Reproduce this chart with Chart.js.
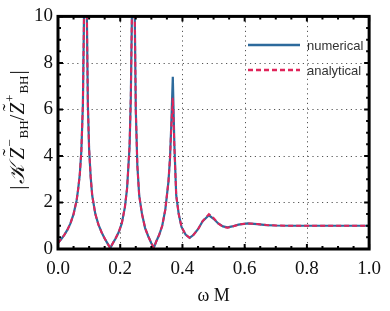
<!DOCTYPE html>
<html lang="en">
<head>
  <meta charset="UTF-8">
  <title>Ratio plot</title>
  <script src="https://cdn.jsdelivr.net/npm/chart.js"></script>
  <style>
    body { margin: 0; padding: 0; background: #ffffff; }
    #wrap { width: 390px; height: 311px; }
  </style>
</head>
<body>
<div id="wrap"><canvas id="ratioChart" width="390" height="311"></canvas></div>

<script>
  // === Data ===
  const omegaM = [0, 0.01, 0.02, 0.03, 0.04, 0.05, 0.06, 0.065, 0.07, 0.075, 0.08,
    0.084, 0.088, 0.092, 0.096, 0.1, 0.105, 0.11, 0.12, 0.13, 0.14, 0.15, 0.16,
    0.168, 0.175, 0.185, 0.195, 0.205, 0.215, 0.222, 0.23, 0.234, 0.238, 0.242,
    0.246, 0.25, 0.255, 0.261, 0.27, 0.28, 0.29, 0.3, 0.308, 0.315, 0.325, 0.335,
    0.345, 0.355, 0.36, 0.364, 0.369, 0.374, 0.38, 0.388, 0.397, 0.41, 0.423,
    0.435, 0.45, 0.465, 0.485, 0.5, 0.515, 0.53, 0.545, 0.56, 0.58, 0.61, 0.64,
    0.67, 0.7, 0.75, 0.8, 0.9, 1.0];

  const numerical = [0.25, 0.42, 0.6, 0.82, 1.1, 1.5, 2.1, 2.6, 3.2, 4.2, 6.2,
    10.5, 30, 11, 6.2, 4.3, 3.1, 2.3, 1.5, 1.05, 0.72, 0.45, 0.22,
    0.04, 0.22, 0.45, 0.72, 1.1, 1.8, 2.6, 4.4, 6.5, 10.5, 30,
    11, 6, 3.6, 2.3, 1.5, 0.9, 0.55, 0.25, 0.05, 0.3, 0.6, 1.0,
    1.7, 2.9, 3.9, 5.3, 7.4, 4.5, 2.3, 1.5, 0.95, 0.62, 0.48,
    0.6, 0.85, 1.2, 1.45, 1.3, 1.1, 0.97, 0.93, 0.97, 1.05, 1.1, 1.07,
    1.03, 1.01, 1.0, 1.0, 1.0, 1.0];

  const analytical = [0.25, 0.42, 0.6, 0.82, 1.1, 1.5, 2.1, 2.6, 3.2, 4.2, 6.2,
    10.5, 30, 11, 6.2, 4.3, 3.1, 2.3, 1.5, 1.05, 0.72, 0.45, 0.22,
    0.04, 0.22, 0.45, 0.72, 1.1, 1.8, 2.6, 4.4, 6.5, 10.5, 30,
    11, 6, 3.6, 2.3, 1.5, 0.9, 0.55, 0.25, 0.05, 0.3, 0.6, 1.0,
    1.7, 2.9, 3.9, 5.2, 6.5, 4.4, 2.3, 1.5, 0.95, 0.62, 0.48,
    0.6, 0.85, 1.2, 1.5, 1.33, 1.1, 0.96, 0.91, 0.96, 1.05, 1.1, 1.07,
    1.03, 1.01, 1.0, 1.0, 1.0, 1.0];

  const xTicks = [0, 0.2, 0.4, 0.6, 0.8, 1.0];
  const yTicks = [0, 2, 4, 6, 8, 10];
  const seriesNames = ['numerical', 'analytical'];

  const blue = '#2d6a9c';
  const red = '#e0245a';
  const serif = "'Liberation Serif', 'DejaVu Serif', serif";

  // frame, inward ticks and dotted grid like the original figure
  const frameTicks = {
    id: 'frameTicks',
    beforeDatasetsDraw(chart) {
      const { ctx, chartArea: a, scales } = chart;
      ctx.save();
      ctx.strokeStyle = '#555';
      ctx.lineWidth = 1;
      ctx.setLineDash([1.2, 3.6]);
      xTicks.slice(1, -1).forEach(v => {
        const px = Math.round(scales.x.getPixelForValue(v)) + 0.5;
        ctx.beginPath(); ctx.moveTo(px, a.top); ctx.lineTo(px, a.bottom); ctx.stroke();
      });
      yTicks.slice(1, -1).forEach(v => {
        const py = Math.round(scales.y.getPixelForValue(v)) + 0.5;
        ctx.beginPath(); ctx.moveTo(a.left, py); ctx.lineTo(a.right, py); ctx.stroke();
      });
      ctx.restore();
    },
    afterDatasetsDraw(chart) {
      const { ctx, chartArea: a, scales } = chart;
      ctx.save();
      ctx.strokeStyle = '#000';
      ctx.lineWidth = 2;
      for (let i = 0; i <= 20; i++) {
        const px = scales.x.getPixelForValue(i * 0.05);
        const len = i % 4 === 0 ? 5 : 3;
        ctx.beginPath();
        ctx.moveTo(px, a.bottom); ctx.lineTo(px, a.bottom - len);
        ctx.moveTo(px, a.top); ctx.lineTo(px, a.top + len);
        ctx.stroke();
      }
      for (let i = 0; i <= 20; i++) {
        const py = scales.y.getPixelForValue(i * 0.5);
        const len = i % 4 === 0 ? 5 : 3;
        ctx.beginPath();
        ctx.moveTo(a.left, py); ctx.lineTo(a.left + len, py);
        ctx.moveTo(a.right, py); ctx.lineTo(a.right - len, py);
        ctx.stroke();
      }
      ctx.lineWidth = 3;
      ctx.strokeRect(a.left, a.top, a.right - a.left, a.bottom - a.top);
      ctx.restore();
    },
    afterDraw(chart) {
      const ctx = chart.ctx;
      ctx.save();
      // legend
      const ds = chart.data.datasets;
      ctx.font = "13px 'Liberation Sans', Arial, sans-serif";
      ctx.textBaseline = 'middle';
      ctx.fillStyle = '#333';
      [45, 70].forEach((py, i) => {
        ctx.strokeStyle = ds[i].borderColor;
        ctx.lineWidth = 2.5;
        ctx.setLineDash(ds[i].borderDash || []);
        ctx.beginPath(); ctx.moveTo(248, py); ctx.lineTo(300, py); ctx.stroke();
        ctx.fillText(ds[i].label, 307, py + 1);
      });
      ctx.setLineDash([]);

      // rotated y-axis title |K Z~-BH / Z~+BH|
      const big = '21px ' + serif;
      const bigIt = 'italic 21px ' + serif;
      const small = '13px ' + serif;
      const parts = [
        { t: '|', f: big, dy: 0, after: 1 },
        { t: '\u{1D4A6}', f: bigIt, dy: 0, after: 5 },
        { t: 'Z', f: bigIt, dy: 0, tilde: true, after: 1 },
        { t: '\u2212', f: small, dy: -10, after: 1 },
        { t: 'BH', f: small, dy: 4 },
        { t: '/', f: big, dy: 0 },
        { t: 'Z', f: bigIt, dy: 0, tilde: true, after: 1 },
        { t: '+', f: small, dy: -10, after: 1 },
        { t: 'BH', f: small, dy: 4, after: 1 },
        { t: '|', f: big, dy: 0 }
      ];
      let total = 0;
      parts.forEach(p => { ctx.font = p.f; p.w = ctx.measureText(p.t).width; total += p.w + (p.after || 0); });
      ctx.translate(24, 130);
      ctx.rotate(-Math.PI / 2);
      ctx.fillStyle = '#111';
      ctx.textBaseline = 'alphabetic';
      let x = -total / 2;
      parts.forEach(p => {
        ctx.font = p.f;
        ctx.fillText(p.t, x, p.dy);
        if (p.tilde) {
          ctx.font = big;
          ctx.fillText('\u02DC', x + p.w * 0.3, -7);
        }
        x += p.w + (p.after || 0);
      });
      ctx.restore();
    }
  };

  const ctxRatio = document.getElementById('ratioChart').getContext('2d');
  const ratioChart = new Chart(ctxRatio, {
    type: 'line',
    data: {
      datasets: [{
        label: seriesNames[0],
        data: omegaM.map((w, i) => ({ x: w, y: numerical[i] })),
        borderColor: blue,
        borderWidth: 2.2,
        pointRadius: 0,
        tension: 0,
        order: 1
      }, {
        label: seriesNames[1],
        data: omegaM.map((w, i) => ({ x: w, y: analytical[i] })),
        borderColor: red,
        borderDash: [5, 3],
        borderWidth: 2,
        pointRadius: 0,
        tension: 0,
        order: 0
      }]
    },
    options: {
      responsive: false,
      animation: false,
      events: [],
      layout: { padding: { top: 11, right: 13, left: 0, bottom: 0 } },
      plugins: { legend: { display: false }, tooltip: { enabled: false } },
      scales: {
        x: {
          type: 'linear', min: 0, max: 1,
          grid: { display: false, drawTicks: false }, border: { display: false },
          afterBuildTicks: s => { s.ticks = xTicks.map(v => ({ value: v })); },
          afterFit: s => { s.height = 62; },
          ticks: {
            font: { family: serif, size: 19 }, color: '#111', padding: 9,
            maxRotation: 0, callback: v => v.toFixed(1)
          },
          title: {
            display: true, text: 'ω M', color: '#111',
            font: { family: serif, size: 18 }, padding: { top: 4, bottom: 4 }
          }
        },
        y: {
          min: 0, max: 10,
          grid: { display: false, drawTicks: false }, border: { display: false },
          afterBuildTicks: s => { s.ticks = yTicks.map(v => ({ value: v })); },
          afterFit: s => { s.width = 58; },
          ticks: { font: { family: serif, size: 19 }, color: '#111', padding: 5 }
        }
      }
    },
    plugins: [frameTicks]
  });
</script>
</body>
</html>
